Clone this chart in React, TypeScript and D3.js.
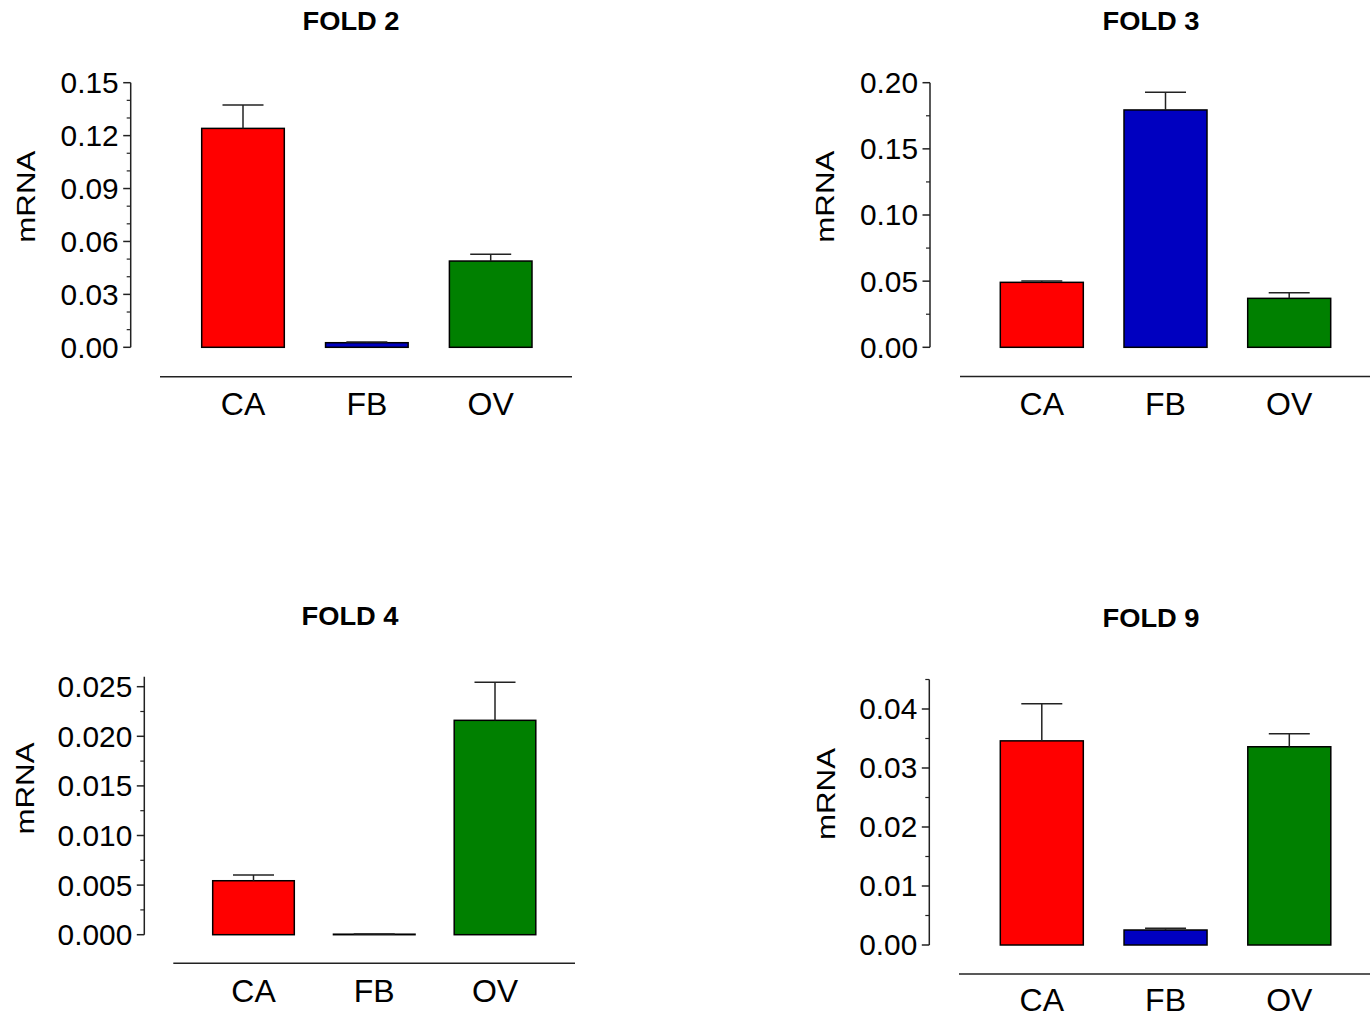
import React, { useEffect, useRef } from 'react';
import * as d3 from 'd3';

const width = 1372;
const height = 1016;

const categories = ['CA', 'FB', 'OV'];
const barColors = ['#ff0000', '#0000c0', '#008000'];

const fold2Means = [0.1241, 0.0026, 0.0489];
const fold2Sem = [0.0133, 0.0004, 0.0038];
const fold3Means = [0.0491, 0.1794, 0.037];
const fold3Sem = [0.001, 0.0133, 0.0043];
const fold4Means = [0.00544, 0.00005, 0.02161];
const fold4Sem = [0.00058, 0.00001, 0.00383];
const fold9Means = [0.0346, 0.00254, 0.0336];
const fold9Sem = [0.0063, 0.0003, 0.0022];

const titles = ['FOLD 2', 'FOLD 3', 'FOLD 4', 'FOLD 9'];

// layout of each panel (pixels)
const panels = [
  {
    title: titles[0], means: fold2Means, sem: fold2Sem,
    yMax: 0.15, major: 0.03, minorPerMajor: 3, fmt: '.2f',
    y0: 347.3, yAt: 82.7, yAtValue: 0.15,
    axisX: 130.7, firstX: 243, lastX: 490.7, barW: 82.6,
    lineY: 376.7, lineX1: 160, lineX2: 572, labelY: 415,
    titleX: 351, titleY: 30, ylabX: 35, ylabY: 196.7,
  },
  {
    title: titles[1], means: fold3Means, sem: fold3Sem,
    yMax: 0.2, major: 0.05, minorPerMajor: 2, fmt: '.2f',
    y0: 347.3, yAt: 82.7, yAtValue: 0.2,
    axisX: 930, firstX: 1041.8, lastX: 1289.2, barW: 83,
    lineY: 376.5, lineX1: 960, lineX2: 1370, labelY: 415,
    titleX: 1151, titleY: 30, ylabX: 834, ylabY: 196.7,
  },
  {
    title: titles[2], means: fold4Means, sem: fold4Sem,
    yMax: 0.026, major: 0.005, minorPerMajor: 2, fmt: '.3f',
    y0: 934.7, yAt: 686.7, yAtValue: 0.025,
    axisX: 144.3, firstX: 253.5, lastX: 495, barW: 81.6,
    lineY: 963.3, lineX1: 173.3, lineX2: 575, labelY: 1001.7,
    titleX: 350, titleY: 625, ylabX: 33.5, ylabY: 788.5,
  },
  {
    title: titles[3], means: fold9Means, sem: fold9Sem,
    yMax: 0.045, major: 0.01, minorPerMajor: 2, fmt: '.2f',
    y0: 945, yAt: 709, yAtValue: 0.04,
    axisX: 929.3, firstX: 1041.8, lastX: 1289.3, barW: 83,
    lineY: 974, lineX1: 959, lineX2: 1370, labelY: 1011,
    titleX: 1151, titleY: 627, ylabX: 835, ylabY: 794,
  },
];

const font = 'Arial, "Liberation Sans", Helvetica, sans-serif';
const ink = '#222';

function App() {
  const ref = useRef<SVGSVGElement>(null);

  useEffect(() => {
    const svg = d3.select(ref.current);
    svg.selectAll('*').remove();

    panels.forEach((p) => {
      const g = svg.append('g');
      const yScale = d3.scaleLinear()
        .domain([0, p.yAtValue])
        .range([p.y0, p.yAt]);
      const xScale = d3.scalePoint()
        .domain(categories)
        .range([p.firstX, p.lastX]);

      // title
      g.append('text')
        .attr('transform', 'translate(' + p.titleX + ',' + p.titleY + ') scale(1.05,1)')
        .attr('text-anchor', 'middle')
        .style('font-family', font)
        .style('font-weight', 'bold')
        .style('font-size', '26px')
        .attr('fill', '#000')
        .text(p.title);

      // y label
      g.append('text')
        .attr('transform', 'translate(' + p.ylabX + ',' + p.ylabY + ') rotate(-90)')
        .attr('text-anchor', 'middle')
        .attr('textLength', 92)
        .attr('lengthAdjust', 'spacingAndGlyphs')
        .style('font-family', font)
        .style('font-size', '26px')
        .attr('fill', '#000')
        .text('mRNA');

      // y axis
      g.append('line')
        .attr('x1', p.axisX).attr('x2', p.axisX)
        .attr('y1', yScale(0)).attr('y2', yScale(p.yMax))
        .attr('stroke', ink).attr('stroke-width', 1.5);

      const nMajor = Math.floor(p.yMax / p.major + 1e-6);
      const majors = d3.range(nMajor + 1).map((i) => i * p.major);
      const minorStep = p.major / p.minorPerMajor;
      const nMinor = Math.floor(p.yMax / minorStep + 1e-6);
      const minors = d3.range(nMinor + 1)
        .filter((i) => i % p.minorPerMajor !== 0)
        .map((i) => i * minorStep);

      g.selectAll('line.minor')
        .data(minors)
        .enter().append('line')
        .attr('class', 'minor')
        .attr('x1', p.axisX - 4).attr('x2', p.axisX)
        .attr('y1', (d) => yScale(d)).attr('y2', (d) => yScale(d))
        .attr('stroke', ink).attr('stroke-width', 1.2);

      g.selectAll('line.major')
        .data(majors)
        .enter().append('line')
        .attr('class', 'major')
        .attr('x1', p.axisX - 7.5).attr('x2', p.axisX)
        .attr('y1', (d) => yScale(d)).attr('y2', (d) => yScale(d))
        .attr('stroke', ink).attr('stroke-width', 1.5);

      g.selectAll('text.tick')
        .data(majors)
        .enter().append('text')
        .attr('class', 'tick')
        .attr('transform', (d) => 'translate(' + (p.axisX - 12) + ',' + yScale(d) + ') scale(1.03,1)')
        .attr('text-anchor', 'end')
        .attr('dy', '0.36em')
        .style('font-family', font)
        .style('font-size', '29px')
        .attr('fill', '#000')
        .text((d) => d3.format(p.fmt)(d));

      // bars
      g.selectAll('rect.bar')
        .data(p.means)
        .enter().append('rect')
        .attr('class', 'bar')
        .attr('x', (_, i) => (xScale(categories[i]) as number) - p.barW / 2)
        .attr('width', p.barW)
        .attr('y', (d) => yScale(d))
        .attr('height', (d) => Math.max(yScale(0) - yScale(d), 0.5))
        .attr('fill', (_, i) => barColors[i])
        .attr('stroke', '#000')
        .attr('stroke-width', 1.5);

      // error bars
      p.means.forEach((m, i) => {
        const cx = xScale(categories[i]) as number;
        const top = yScale(m + p.sem[i]);
        g.append('line')
          .attr('x1', cx).attr('x2', cx)
          .attr('y1', yScale(m)).attr('y2', top)
          .attr('stroke', ink).attr('stroke-width', 1.5);
        g.append('line')
          .attr('x1', cx - 20.5).attr('x2', cx + 20.5)
          .attr('y1', top).attr('y2', top)
          .attr('stroke', ink).attr('stroke-width', 1.5);
      });

      // x axis line and labels
      g.append('line')
        .attr('x1', p.lineX1).attr('x2', p.lineX2)
        .attr('y1', p.lineY).attr('y2', p.lineY)
        .attr('stroke', ink).attr('stroke-width', 1.5);

      g.selectAll('text.cat')
        .data(categories)
        .enter().append('text')
        .attr('class', 'cat')
        .attr('x', (d) => xScale(d) as number)
        .attr('y', p.labelY)
        .attr('text-anchor', 'middle')
        .style('font-family', font)
        .style('font-size', '32px')
        .attr('fill', '#000')
        .text((d) => d);
    });
  }, []);

  return (
    <svg
      ref={ref}
      width={width}
      height={height}
      style={{ position: 'absolute', left: 0, top: 0, background: '#fff' }}
    />
  );
}

export default App;
